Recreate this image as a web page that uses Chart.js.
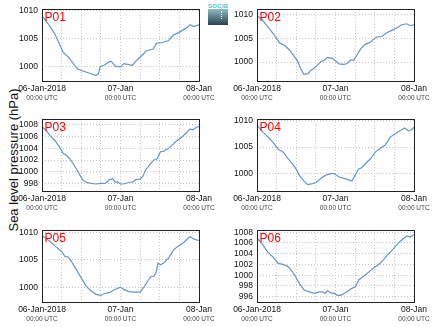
<!DOCTYPE html>
<html>
<head>
<meta charset="utf-8">
<script src="https://cdn.jsdelivr.net/npm/chart.js@4.4.0/dist/chart.umd.min.js"></script>
<style>
    html, body { margin: 0; padding: 0; background: #fff; }
    #wrap { position: relative; width: 435px; height: 327px; overflow: hidden; font-family: 'Liberation Sans', Arial, sans-serif; }
    .panel { position: absolute; }
    #ytitle { position: absolute; left: 13px; top: 160px; transform: translate(-50%, -50%) rotate(-90deg); font-size: 13px; white-space: nowrap; color: #111; }
    #logo { position: absolute; left: 208px; top: 3px; width: 20px; height: 22px; }
    #logo .txt { font-size: 6px; line-height: 6px; color: #3cc3dc; font-weight: bold; letter-spacing: 0.3px; text-align: center; }
    #logo .box { position: relative; margin-top: 0; height: 16px; background: linear-gradient(to bottom, #8cbac8, #2c4050); }
    #logo .dots { position: absolute; left: 13px; top: 2px; height: 8px; border-left: 1px dotted #fff; }
</style>
</head>
<body>
<div id="wrap">
    <div id="ytitle">Sea level pressure (hPa)</div>
    <div id="logo"><div class="txt">SOCIB</div><div class="box"><div class="dots"></div></div></div>
</div>
<script>
    // --- Data (hours since 06-Jan-2018 00:00 UTC, sea level pressure in hPa) ---
    const stationNames = ['P01', 'P02', 'P03', 'P04', 'P05', 'P06'];

    const p01Hours = [0, 2, 3.9, 6, 6.5, 8, 10, 11, 13, 15, 16.3, 17.2, 17.8, 19, 20.5, 21.2, 22.5, 24, 25, 26.6, 27.6, 29, 31, 32, 34, 35, 37, 38.7, 40, 42, 44.3, 45.3, 46.3, 48];
    const p01Values = [1009.0, 1007.5, 1005.8, 1003.1, 1002.5, 1001.7, 1000.2, 999.5, 999.1, 998.7, 998.4, 998.6, 1000.0, 1000.2, 1000.8, 1000.9, 1000.0, 999.9, 1000.5, 1000.3, 1000.2, 1001.1, 1002.2, 1002.8, 1003.1, 1004.1, 1004.3, 1004.6, 1005.5, 1006.1, 1006.9, 1007.4, 1007.1, 1007.4];

    const p02Hours = [0, 1.4, 3.4, 5.4, 7, 8.5, 10, 11.5, 12.5, 13.3, 14.3, 15.5, 16.5, 17.5, 18.5, 19.6, 20.6, 21.6, 23, 24, 25, 26.6, 27.6, 28.6, 29.6, 30.6, 31.7, 33.2, 34.7, 35.7, 36.7, 38.2, 39.7, 41.2, 42.7, 44.2, 45.8, 46.8, 48];
    const p02Values = [1009.8, 1009.1, 1007.4, 1005.6, 1004.0, 1003.5, 1002.5, 1001.1, 1000.1, 998.7, 997.4, 997.5, 998.3, 998.7, 999.4, 1000.1, 1000.4, 1001.0, 1000.8, 1000.3, 999.6, 999.5, 999.7, 1000.4, 1000.4, 1001.5, 1002.8, 1003.8, 1004.2, 1004.9, 1005.3, 1005.4, 1006.2, 1006.7, 1007.2, 1007.9, 1008.1, 1007.7, 1007.9];

    const p03Hours = [0, 1.4, 2.4, 4, 5.4, 6.5, 7.5, 8.5, 9.5, 10.5, 11.5, 12.5, 13.5, 15, 16.5, 18, 19.5, 20.5, 21.6, 22.4, 23, 24, 25, 26.6, 27.6, 28.6, 30.1, 30.8, 31.7, 33.2, 34.2, 35.2, 36.2, 37.2, 38.7, 39.7, 41.2, 42.7, 44.2, 45.2, 46.2, 47.2, 48];
    const p03Values = [1007.7, 1007.0, 1006.2, 1005.3, 1004.2, 1003.1, 1002.8, 1002.2, 1001.4, 1000.5, 999.5, 998.6, 998.2, 998.0, 997.9, 998.0, 998.05, 998.6, 998.8, 998.2, 998.3, 997.9, 997.9, 998.2, 998.2, 998.6, 998.8, 999.2, 1000.3, 1001.4, 1002.0, 1002.2, 1003.4, 1003.5, 1004.0, 1004.5, 1005.3, 1005.9, 1006.7, 1007.3, 1007.2, 1007.6, 1007.7];

    const p04Hours = [0, 1.9, 3.4, 4.9, 6.5, 8, 9.5, 11, 12, 13, 14.3, 15.5, 17, 18, 19.6, 21, 22.6, 23.6, 25, 26.6, 27.6, 29, 30, 31, 32, 33.2, 34.7, 36.2, 37.7, 39.2, 40.7, 42.2, 43.7, 45.2, 46.2, 46.9, 48];
    const p04Values = [1009.1, 1007.8, 1006.9, 1005.9, 1004.6, 1004.1, 1002.8, 1001.7, 1000.8, 999.6, 998.6, 997.9, 998.1, 998.3, 999.1, 999.7, 1000.0, 1000.0, 999.4, 999.1, 998.9, 998.6, 999.7, 1000.8, 1001.1, 1001.9, 1002.8, 1004.1, 1004.8, 1005.4, 1006.9, 1007.5, 1008.1, 1008.6, 1008.1, 1008.1, 1008.75];

    const p05Hours = [0, 1.4, 2.9, 4.4, 6, 7, 8, 9, 10.5, 12, 13.5, 15, 16.5, 18, 19, 20.6, 22, 24, 25, 26.6, 28, 30, 31, 32, 33.2, 34.2, 34.9, 35.5, 36.2, 37.2, 38.7, 40.2, 41.7, 43.2, 45.2, 46.7, 48];
    const p05Values = [1009.4, 1008.8, 1008.1, 1007.3, 1006.5, 1005.6, 1005.5, 1004.7, 1003.2, 1001.7, 1000.2, 999.3, 998.7, 998.5, 998.8, 999.0, 999.5, 1000.0, 999.6, 999.2, 999.1, 999.1, 999.9, 1000.8, 1001.9, 1002.0, 1002.7, 1004.4, 1004.1, 1004.4, 1005.3, 1006.8, 1007.5, 1008.1, 1009.2, 1008.7, 1008.5];

    const p06Hours = [0, 1.4, 2.4, 3.4, 4.9, 6.5, 8, 9.5, 11, 12, 13.3, 14.5, 16, 17.5, 19, 20, 20.8, 21.6, 22.6, 23.6, 24.6, 25.6, 26.6, 27.6, 28.6, 30.1, 31.1, 32.6, 34.2, 35.7, 37.2, 38.7, 40.2, 41.7, 43.2, 44.7, 45.8, 46.8, 48];
    const p06Values = [1006.9, 1006.0, 1005.1, 1004.2, 1003.4, 1002.2, 1002.0, 1001.6, 1000.5, 999.5, 998.1, 997.2, 996.9, 996.6, 996.9, 996.9, 996.6, 997.1, 996.7, 996.6, 996.25, 996.25, 996.6, 996.9, 997.4, 997.9, 999.1, 999.8, 1000.6, 1001.4, 1002.0, 1002.9, 1004.0, 1004.9, 1006.0, 1006.8, 1007.3, 1007.1, 1007.6];

    // y axis ticks and limits per station
    const yTicksA = [1000, 1005, 1010];
    const yTicksB = [998, 1000, 1002, 1004, 1006, 1008];
    const yTicksC = [996, 998, 1000, 1002, 1004, 1006, 1008];
    const yMins = [997.4, 996.0, 996.7, 996.7, 997.3, 995.0];
    const yMaxs = [1010.2, 1011.2, 1009.0, 1010.3, 1010.4, 1008.4];

    // x axis labels (hours -> date, time)
    const xLabelHours = [0, 24, 48];
    const xDateLabels = ['06-Jan-2018', '07-Jan', '08-Jan'];
    const xTimeLabel = '00:00 UTC';

    const allHours = [p01Hours, p02Hours, p03Hours, p04Hours, p05Hours, p06Hours];
    const allValues = [p01Values, p02Values, p03Values, p04Values, p05Values, p06Values];
    const allTicks = [yTicksA, yTicksA, yTicksB, yTicksA, yTicksA, yTicksC];

    // --- Layout ---
    const FONT = "'Liberation Sans', Arial, sans-serif";
    const panelLeft = [0, 215, 0, 215, 0, 215];
    const panelTop = [0, 0, 110, 110, 221, 221];
    const W = 215, H = 106;

    // frame, station name and "00:00 UTC" line
    const panelDecor = {
        id: 'panelDecor',
        afterDatasetsDraw(chart) {
            const { ctx, chartArea: a } = chart;
            const xs = chart.scales.x;
            ctx.save();
            ctx.strokeStyle = '#222';
            ctx.lineWidth = 1;
            ctx.strokeRect(Math.round(a.left) + 0.5, Math.round(a.top) + 0.5, Math.round(a.right - a.left), Math.round(a.bottom - a.top));
            ctx.fillStyle = '#ff0000';
            ctx.font = '12px ' + FONT;
            ctx.textBaseline = 'alphabetic';
            ctx.textAlign = 'left';
            ctx.fillText(chart.options.plugins.panelDecor.name, a.left + 2.5, a.top + 12);
            ctx.fillStyle = '#444';
            ctx.font = '6.5px ' + FONT;
            ctx.textAlign = 'center';
            ctx.textBaseline = 'middle';
            xLabelHours.forEach(h => {
                ctx.fillText(xTimeLabel, xs.getPixelForValue(h), a.bottom + 17.7);
            });
            ctx.restore();
        }
    };

    const wrap = document.getElementById('wrap');
    stationNames.forEach((name, i) => {
        const canvas = document.createElement('canvas');
        canvas.className = 'panel';
        canvas.width = W;
        canvas.height = H;
        canvas.style.left = panelLeft[i] + 'px';
        canvas.style.top = panelTop[i] + 'px';
        wrap.appendChild(canvas);

        new Chart(canvas.getContext('2d'), {
            type: 'line',
            data: {
                datasets: [{
                    data: allHours[i].map((h, k) => ({ x: h, y: allValues[i][k] })),
                    borderColor: '#6396c9',
                    borderWidth: 1.2,
                    pointRadius: 0,
                    tension: 0,
                    fill: false
                }]
            },
            options: {
                responsive: false,
                animation: false,
                devicePixelRatio: 1,
                layout: { padding: { top: 8, right: 14, left: 0, bottom: 0 } },
                plugins: {
                    legend: { display: false },
                    tooltip: { enabled: false },
                    panelDecor: { name }
                },
                scales: {
                    x: {
                        type: 'linear',
                        min: 0,
                        max: 48,
                        afterFit: s => { s.height = 25; },
                        grid: { color: '#c4c4c4', lineWidth: 1, drawTicks: false },
                        border: { display: false, dash: [1, 2] },
                        ticks: {
                            stepSize: 6,
                            autoSkip: false,
                            maxRotation: 0,
                            padding: 3,
                            color: '#111',
                            font: { family: FONT, size: 8.5 },
                            callback: v => {
                                const k = xLabelHours.indexOf(v);
                                return k >= 0 ? xDateLabels[k] : '';
                            }
                        }
                    },
                    y: {
                        min: yMins[i],
                        max: yMaxs[i],
                        afterFit: s => { s.width = 42; },
                        afterBuildTicks: s => { s.ticks = allTicks[i].map(v => ({ value: v })); },
                        grid: { color: '#c4c4c4', lineWidth: 1, drawTicks: false },
                        border: { display: false, dash: [1, 2] },
                        ticks: {
                            autoSkip: false,
                            padding: 4,
                            color: '#111',
                            font: { family: FONT, size: 8.5 },
                            callback: v => String(v)
                        }
                    }
                }
            },
            plugins: [panelDecor]
        });
    });
</script>
</body>
</html>
